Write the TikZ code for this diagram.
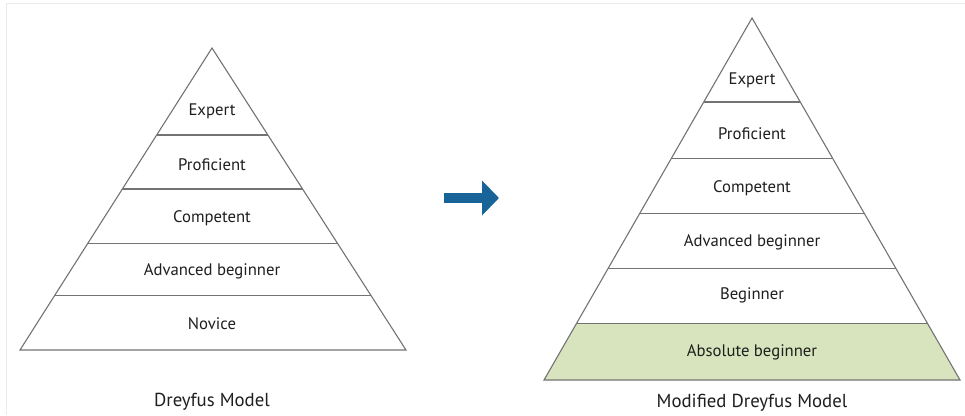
\documentclass[tikz,border=0pt]{standalone}
\usepackage{fontspec}
\setmainfont{PT Sans}
\usetikzlibrary{
    arrows.meta,
    calc,
    positioning
}
\definecolor{arrowblue}{RGB}{24,100,152}
\definecolor{basegreen}{RGB}{215,228,189}
\definecolor{labelgray}{RGB}{30,30,30}
\tikzset{
    frame/.style={draw=black!8, line width=0.8pt},
    tier/.style={draw=black!55, line width=1.1pt, line join=miter},
    level/.style={font=\fontsize{16.7}{19}\selectfont, text=labelgray},
    caption/.style={font=\fontsize{18.8}{22}\selectfont, text=labelgray},
    shiftarrow/.style={draw=arrowblue, line width=9.5pt,
        -{Triangle[length=17pt, width=34pt]}}
}

\begin{document}
\begin{tikzpicture}[x=1pt, y=-1pt]
    \useasboundingbox (0,0) rectangle (965,415);
    \draw[frame] (6,415) -- (6,3) -- (965,3);

    % left pyramid
    \coordinate (Ltop) at (212,48);
    \coordinate (Lbl) at (20,350);
    \coordinate (Lbr) at (406,350);
    \draw[tier] (Ltop) -- (Lbr) -- (Lbl) -- cycle;
    \foreach \t in {0.288,0.467,0.646,0.821}{
        \draw[tier] ($(Ltop)!\t!(Lbl)$) -- ($(Ltop)!\t!(Lbr)$);
    }
    \foreach \lab/\y [count=\i] in {Expert/111,Proficient/165,Competent/218,
        Advanced beginner/271,Novice/324}{
        \node[level] (L\i) at (212,\y) {\lab};
    }
    \node[caption] (Lcap) at (212,402) {Dreyfus Model};

    % arrow between the two models
    \coordinate (Afrom) at (444,198);
    \coordinate (Ato) at (499,198);
    \draw[shiftarrow] (Afrom) -- (Ato);

    % right pyramid
    \coordinate (Rtop) at (752,18);
    \coordinate (Rbl) at (544,380);
    \coordinate (Rbr) at (960,380);
    \fill[basegreen] ($(Rtop)!0.844!(Rbl)$) -- ($(Rtop)!0.844!(Rbr)$)
        -- (Rbr) -- (Rbl) -- cycle;
    \draw[tier] (Rtop) -- (Rbr) -- (Rbl) -- cycle;
    \foreach \t in {0.232,0.387,0.539,0.693,0.844}{
        \draw[tier] ($(Rtop)!\t!(Rbl)$) -- ($(Rtop)!\t!(Rbr)$);
    }
    \foreach \lab/\y [count=\i] in {Expert/80,Proficient/134,Competent/188,
        Advanced beginner/242,Beginner/295,Absolute beginner/352}{
        \node[level] (R\i) at (752,\y) {\lab};
    }
    \node[caption] (Rcap) at (752,403) {Modified Dreyfus Model};
\end{tikzpicture}
\end{document}
